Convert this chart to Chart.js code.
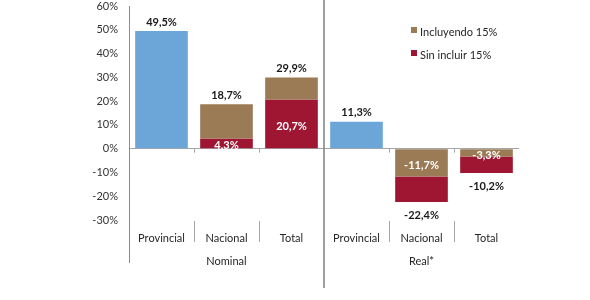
<!DOCTYPE html>
<html>
<head>
<meta charset="utf-8">
<script src="https://cdn.jsdelivr.net/npm/chart.js@4"></script>
<style>
  html, body { margin: 0; padding: 0; background: #fff; }
  #wrap { width: 590px; height: 300px; }
</style>
</head>
<body>
<div id="wrap"><canvas id="myChart" width="590" height="300"></canvas></div>
<script>
// values
const categories = ['Provincial', 'Nacional', 'Total', 'Provincial', 'Nacional', 'Total'];
const groups = ['Nominal', 'Real*'];
const provincial = [49.5, null, null, 11.3, null, null];
const incluyendo = [null, 18.7, 29.9, null, -11.7, -3.3];
const sinIncluir = [null, 4.3, 20.7, null, -22.4, -10.2];

const blue = '#6ca6d8';
const tan = '#9a7b55';
const red = '#9e1631';
const font = 'Lato, "Noto Sans", sans-serif';

const fmt = (v) => v.toFixed(1).replace('.', ',') + '%';

// the inner (smaller) part starts at 0, the outer part starts where the inner one ends
const tanBars = incluyendo.map((v, i) => {
  if (v === null) return null;
  return Math.abs(v) > Math.abs(sinIncluir[i]) ? [sinIncluir[i], v] : [0, v];
});
const redBars = sinIncluir.map((v, i) => {
  if (v === null) return null;
  return Math.abs(v) > Math.abs(incluyendo[i]) ? [incluyendo[i], v] : [0, v];
});

const extras = {
  id: 'extras',
  afterDatasetsDraw(chart) {
    const ctx = chart.ctx;
    const x = chart.scales.x;
    const y = chart.scales.y;
    const area = chart.chartArea;
    const zero = y.getPixelForValue(0);

    ctx.save();
    // small ticks on zero line and separators in the label band
    ctx.strokeStyle = '#a6a6a6';
    ctx.lineWidth = 1;
    for (let i = 0; i < categories.length - 1; i++) {
      if (i === 2) continue;
      const bx = Math.round((x.getPixelForValue(i) + x.getPixelForValue(i + 1)) / 2) + 0.5;
      ctx.beginPath();
      ctx.moveTo(bx, zero);
      ctx.lineTo(bx, zero + 4);
      ctx.moveTo(bx, area.bottom + 1);
      ctx.lineTo(bx, area.bottom + 22);
      ctx.stroke();
    }
    // left axis extension
    ctx.strokeStyle = '#8c8c8c';
    ctx.beginPath();
    ctx.moveTo(area.left + 0.5, area.bottom);
    ctx.lineTo(area.left + 0.5, area.bottom + 43);
    ctx.stroke();
    // group separator
    const mid = Math.round((x.getPixelForValue(2) + x.getPixelForValue(3)) / 2);
    ctx.strokeStyle = '#7f7f7f';
    ctx.lineWidth = 1.5;
    ctx.beginPath();
    ctx.moveTo(mid, 0);
    ctx.lineTo(mid, area.bottom + 68);
    ctx.stroke();

    // value labels
    ctx.font = 'bold 11px ' + font;
    ctx.textAlign = 'center';
    ctx.textBaseline = 'middle';
    chart.data.datasets.forEach((ds, di) => {
      const meta = chart.getDatasetMeta(di);
      meta.data.forEach((bar, i) => {
        const raw = ds.data[i];
        if (raw === null) return;
        let start = 0, end = raw;
        if (Array.isArray(raw)) { start = raw[0]; end = raw[1]; }
        const outer = start !== 0 || di === 0;
        const py = y.getPixelForValue(end);
        if (outer) {
          ctx.fillStyle = '#1a1a1a';
          ctx.fillText(fmt(end), bar.x, end >= 0 ? py - 9 : py + 14);
        } else {
          ctx.fillStyle = '#ffffff';
          ctx.fillText(fmt(end), bar.x, (zero + py) / 2 + (end >= 0 ? 2 : 3));
        }
      });
    });

    // legend
    ctx.font = '11px ' + font;
    ctx.textAlign = 'left';
    const items = [chart.data.datasets[1], chart.data.datasets[2]];
    items.forEach((ds, k) => {
      const ly = 32 + k * 23;
      ctx.fillStyle = ds.backgroundColor;
      ctx.fillRect(411, ly - 5, 6, 6);
      ctx.fillStyle = '#262626';
      ctx.fillText(ds.label, 420, ly);
    });
    ctx.restore();
  }
};

new Chart(document.getElementById('myChart').getContext('2d'), {
  type: 'bar',
  data: {
    labels: categories,
    datasets: [
      { label: 'Provincial', data: provincial, backgroundColor: blue, grouped: false },
      { label: 'Incluyendo 15%', data: tanBars, backgroundColor: tan, grouped: false },
      { label: 'Sin incluir 15%', data: redBars, backgroundColor: red, grouped: false }
    ]
  },
  plugins: [extras],
  options: {
    responsive: false,
    animation: false,
    categoryPercentage: 0.81,
    barPercentage: 1,
    layout: { padding: { left: 0, right: 71, top: 6, bottom: 22 } },
    plugins: {
      legend: { display: false },
      tooltip: { enabled: false }
    },
    scales: {
      x: {
        grid: { display: false, drawTicks: false },
        border: { display: false },
        ticks: { color: '#262626', font: { family: font, size: 11 }, padding: 12 },
        afterFit: (s) => { s.height = 28; s.paddingLeft = 0; s.paddingRight = 0; }
      },
      x2: {
        type: 'category',
        labels: groups,
        position: 'bottom',
        grid: { display: false, drawTicks: false },
        border: { display: false },
        ticks: { color: '#262626', font: { family: font, size: 11 }, padding: 7 },
        afterFit: (s) => { s.height = 30; s.paddingLeft = 0; s.paddingRight = 0; }
      },
      y: {
        min: -30,
        max: 60,
        ticks: {
          stepSize: 10,
          color: '#333',
          padding: 11,
          font: { family: font, size: 11 },
          callback: (v) => v + '%'
        },
        grid: {
          drawTicks: false,
          color: (c) => c.tick && c.tick.value === 0 ? '#a6a6a6' : 'rgba(0,0,0,0)'
        },
        border: { color: '#8c8c8c' },
        afterFit: (s) => { s.width = 129; s.paddingTop = 0; s.paddingBottom = 0; }
      }
    }
  }
});
</script>
</body>
</html>
